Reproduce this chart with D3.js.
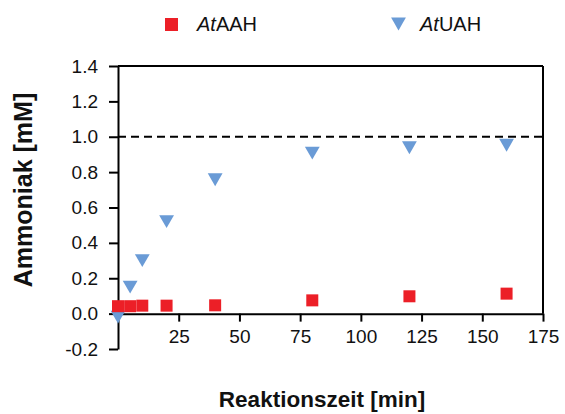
<!DOCTYPE html>
<html>
<head>
<meta charset="utf-8">
<script src="https://cdn.jsdelivr.net/npm/d3@7"></script>
<style>
  body { margin: 0; background: #fff; }
  text { font-family: "Liberation Sans", Arial, sans-serif; }
</style>
</head>
<body>
<div id="wrapper"></div>
<script>
// reaction times (min) and ammonia (mM)
const times = [0, 5, 10, 20, 40, 80, 120, 160];
const aahValues = [0.042, 0.042, 0.045, 0.045, 0.047, 0.075, 0.098, 0.113];
const uahValues = [-0.02, 0.15, 0.30, 0.52, 0.757, 0.907, 0.938, 0.952];
const xTicks = [25, 50, 75, 100, 125, 150, 175];
const yTicks = [-0.2, 0.0, 0.2, 0.4, 0.6, 0.8, 1.0, 1.2, 1.4];
const refLine = 1.0;

function drawChart() {
  let dimensions = {
    width: 565,
    height: 414,
    margin: { top: 66, left: 118, bottom: 65, right: 22 }
  }
  dimensions.boundedWidth = dimensions.width - dimensions.margin.left - dimensions.margin.right;
  dimensions.boundedHeight = dimensions.height - dimensions.margin.top - dimensions.margin.bottom;

  const red = "#ec1f27";
  const blue = "#6a9bd6";

  let wrapper = d3.select("#wrapper").append("svg")
    .attr("width", dimensions.width)
    .attr("height", dimensions.height);
  let container = wrapper.append("g")
    .attr("transform", `translate(${dimensions.margin.left},${dimensions.margin.top})`);

  let xScale = d3.scaleLinear().domain([0, 175]).range([0, dimensions.boundedWidth]);
  let yScale = d3.scaleLinear().domain([-0.2, 1.4]).range([dimensions.boundedHeight, 0]);

  // frame: top and right
  container.append("line")
    .attr("x1", xScale(0)).attr("x2", xScale(175))
    .attr("y1", yScale(1.4)).attr("y2", yScale(1.4))
    .attr("stroke", "#000").attr("stroke-width", 2);
  container.append("line")
    .attr("x1", xScale(175)).attr("x2", xScale(175))
    .attr("y1", yScale(1.4)).attr("y2", yScale(0))
    .attr("stroke", "#000").attr("stroke-width", 2);

  // dashed line at 1.0
  container.append("line")
    .attr("x1", xScale(0)).attr("x2", xScale(175))
    .attr("y1", yScale(refLine)).attr("y2", yScale(refLine))
    .attr("stroke", "#000").attr("stroke-width", 2)
    .attr("stroke-dasharray", "8,5");

  let yAxisGen = d3.axisLeft(yScale).tickValues(yTicks)
    .tickFormat(d3.format(".1f")).tickSize(9).tickSizeOuter(0).tickPadding(11);
  let xAxisGen = d3.axisBottom(xScale).tickValues(xTicks)
    .tickSize(8).tickSizeOuter(0).tickPadding(8);

  const axisY = container.append("g").call(yAxisGen);
  const axisX = container.append("g").attr("transform", `translate(0,${yScale(0)})`).call(xAxisGen);
  [axisX, axisY].forEach(a => {
    a.select(".domain").attr("stroke", "#000").attr("stroke-width", 2);
    a.selectAll(".tick line").attr("stroke", "#000").attr("stroke-width", 2);
    a.selectAll(".tick text").attr("fill", "#111")
      .style("font-size", "19px").style("font-family", "Liberation Sans, Arial, sans-serif");
  });
  axisY.selectAll(".tick text").text(d => d < 0 ? "-" + Math.abs(d).toFixed(1) : d.toFixed(1));

  // downward triangle centred on its bounding box
  const triDown = {
    draw(ctx, size) {
      const s = Math.sqrt(size * 4 / Math.sqrt(3));
      const h = s * Math.sqrt(3) / 2;
      ctx.moveTo(-s / 2, -h / 2);
      ctx.lineTo(s / 2, -h / 2);
      ctx.lineTo(0, h / 2);
      ctx.closePath();
    }
  };
  const tri = d3.symbol().type(triDown).size(95);

  // UAH triangles
  container.append("g").selectAll("path")
    .data(times)
    .enter()
    .append("path")
    .attr("d", tri)
    .attr("transform", (d, i) => `translate(${xScale(d)},${yScale(uahValues[i])})`)
    .attr("fill", blue);

  // AAH squares
  const sq = 12;
  container.append("g").selectAll("rect")
    .data(times)
    .enter()
    .append("rect")
    .attr("x", d => xScale(d) - sq / 2)
    .attr("y", (d, i) => yScale(aahValues[i]) - sq / 2)
    .attr("width", sq).attr("height", sq)
    .attr("fill", red);

  // axis titles
  wrapper.append("text")
    .attr("transform", "translate(32,190) rotate(-90)")
    .attr("text-anchor", "middle")
    .style("font-size", "25px").style("font-weight", "bold")
    .attr("fill", "#111")
    .text("Ammoniak [mM]");
  wrapper.append("text")
    .attr("x", 322).attr("y", 407)
    .attr("text-anchor", "middle")
    .style("font-size", "22.5px").style("font-weight", "bold")
    .attr("fill", "#111")
    .text("Reaktionszeit [min]");

  // legend
  const legend = wrapper.append("g");
  legend.append("rect")
    .attr("x", 165).attr("y", 18).attr("width", 13).attr("height", 13)
    .attr("fill", red);
  let t1 = legend.append("text").attr("x", 197).attr("y", 31)
    .style("font-size", "20px").attr("fill", "#111");
  t1.append("tspan").style("font-style", "italic").text("At");
  t1.append("tspan").text("AAH");

  legend.append("path")
    .attr("d", tri)
    .attr("transform", "translate(398.5,24)")
    .attr("fill", blue);
  let t2 = legend.append("text").attr("x", 420).attr("y", 31)
    .style("font-size", "20px").attr("fill", "#111");
  t2.append("tspan").style("font-style", "italic").text("At");
  t2.append("tspan").text("UAH");
}

drawChart()
</script>
</body>
</html>
